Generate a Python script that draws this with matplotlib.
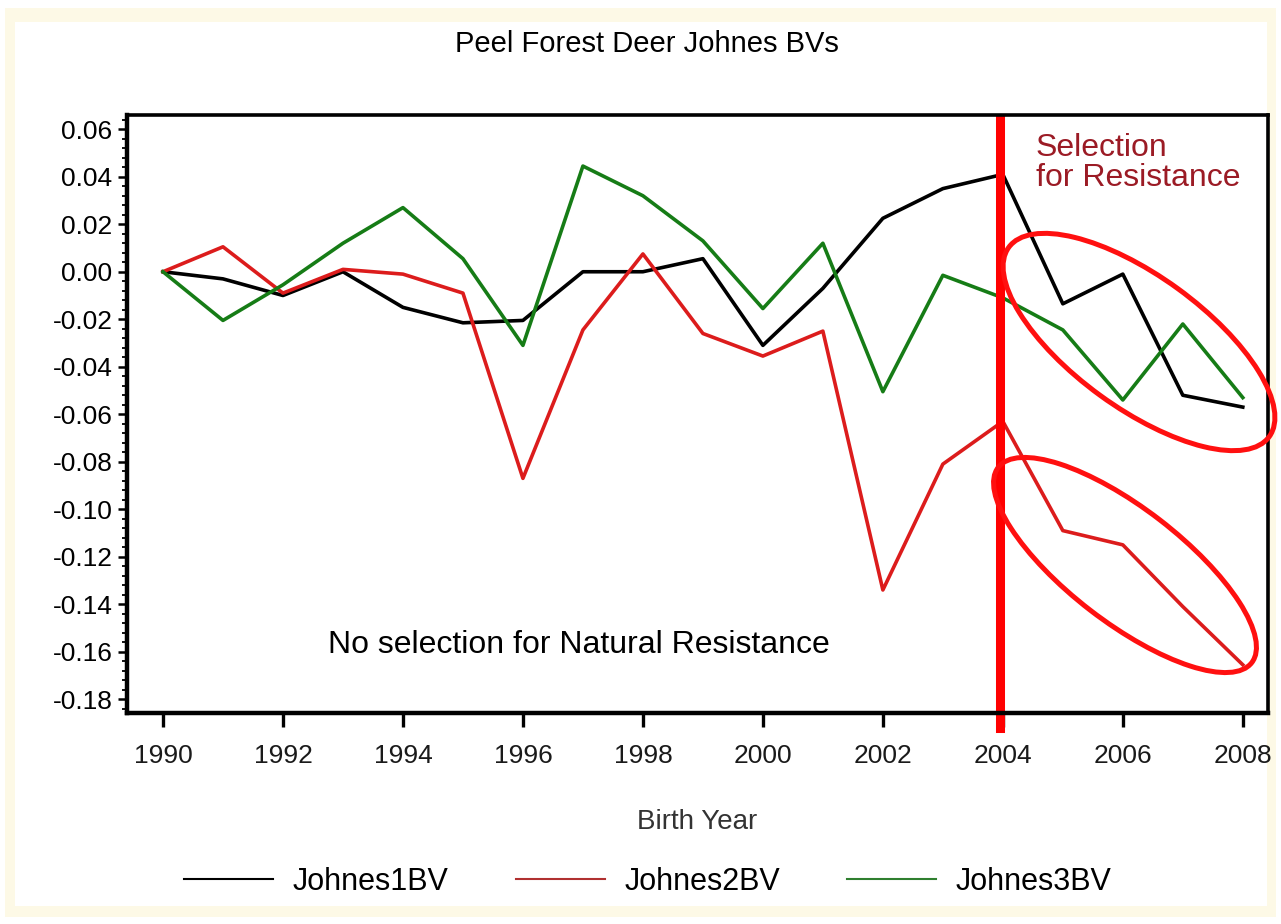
import matplotlib
matplotlib.use("Agg")
import matplotlib.pyplot as plt
from matplotlib.patches import Ellipse, Rectangle
from matplotlib.lines import Line2D
from matplotlib.ticker import MultipleLocator

plt.rcParams['font.family'] = ['Liberation Sans', 'DejaVu Sans']

years = list(range(1990, 2009))
johnes1 = [0.000, -0.003, -0.010, 0.000, -0.015, -0.0215, -0.0205, 0.000, 0.000, 0.0055,
           -0.031, -0.007, 0.0225, 0.035, 0.041, -0.0135, -0.001, -0.052, -0.057]
johnes2 = [0.000, 0.0105, -0.009, 0.001, -0.001, -0.009, -0.087, -0.0245, 0.0075, -0.026,
           -0.0355, -0.025, -0.134, -0.081, -0.063, -0.109, -0.115, -0.141, -0.1655]
johnes3 = [0.000, -0.0205, -0.0055, 0.012, 0.027, 0.0055, -0.031, 0.0445, 0.032, 0.013,
           -0.0155, 0.012, -0.0505, -0.0015, -0.011, -0.0245, -0.054, -0.022, -0.053]
series_names = ["Johnes1BV", "Johnes2BV", "Johnes3BV"]
xtick_years = list(range(1990, 2009, 2))
split_year = 2004

W, H = 1281, 924
fig = plt.figure(figsize=(W / 100, H / 100), dpi=100, facecolor="white")

# cream frame round the chart
bg = fig.add_axes([0, 0, 1, 1])
bg.set_xlim(0, W)
bg.set_ylim(H, 0)
bg.axis("off")
bg.add_patch(Rectangle((5, 8), 1271, 909, facecolor="#FDF9E6", edgecolor="none"))
bg.add_patch(Rectangle((15, 22), 1252, 884, facecolor="white", edgecolor="none"))

ax = fig.add_axes([127 / W, 1 - 713 / H, (1268 - 127) / W, (713 - 115) / H])
ax.plot(years, johnes1, color="black", lw=2.6)
ax.plot(years, johnes2, color="#DC1C1C", lw=2.6)
ax.plot(years, johnes3, color="#167C16", lw=2.6)

ax.set_xlim(1989.4, 2008.42)
ax.set_ylim(-0.1858, 0.066)
ax.set_xticks(xtick_years)
ax.set_xticklabels([str(y) for y in xtick_years])
ax.yaxis.set_major_locator(MultipleLocator(0.02))
ax.yaxis.set_minor_locator(MultipleLocator(0.004))
ax.set_yticks([round(-0.18 + 0.02 * i, 2) for i in range(13)])
ax.set_yticklabels(["%.2f" % v for v in ax.get_yticks()])

for side, s in ax.spines.items():
    s.set_linewidth(3.2 if side in ("left", "bottom") else 2.6)
ax.tick_params(axis="x", length=10, width=2.4, pad=12, labelsize=19, labelcolor="#1a1a1a")
ax.tick_params(axis="y", which="major", length=6.5, width=1.8, pad=4, labelsize=19)
ax.tick_params(axis="y", which="minor", length=3.5, width=1.3)

ax.set_xlabel("Birth Year", fontsize=20, color="#333333", labelpad=30)

# split marker at 2004
ax.axvline(split_year - 0.04, ymin=-0.025, ymax=0.992, color="#FF0000", lw=6.5, clip_on=False)

ax.text(1996.93, -0.157, "No selection for Natural Resistance", fontsize=23,
        ha="center", va="center", color="black")
ax.text(2004.55, 0.0585, "Selection\nfor Resistance", fontsize=23, linespacing=1.0,
        ha="left", va="top", color="#9B1B25")

fig.text(647 / W, 1 - 44 / H, "Peel Forest Deer Johnes BVs", fontsize=21,
         ha="center", va="center", color="black")

# ellipses round the post-2004 segments
ov = fig.add_axes([0, 0, 1, 1], zorder=5)
ov.set_xlim(0, W)
ov.set_ylim(H, 0)
ov.axis("off")
ov.patch.set_alpha(0)
ov.add_patch(Ellipse((1139, 342), 322, 132, angle=36, fill=False, edgecolor="#FF1010", lw=3.6))
ov.add_patch(Ellipse((1125, 565), 320, 114, angle=37.6, fill=False, edgecolor="#FF1010", lw=3.6))

handles = [Line2D([], [], color="black", lw=1.5),
           Line2D([], [], color="#B03030", lw=1.5),
           Line2D([], [], color="#2F7F2F", lw=1.5)]
fig.legend(handles, series_names, loc="center", bbox_to_anchor=(648 / W, 1 - 882 / H),
           ncol=3, frameon=False, fontsize=22, handlelength=2.9, handletextpad=0.65,
           columnspacing=2.2)

fig.savefig("out.png", dpi=100, facecolor=fig.get_facecolor())
